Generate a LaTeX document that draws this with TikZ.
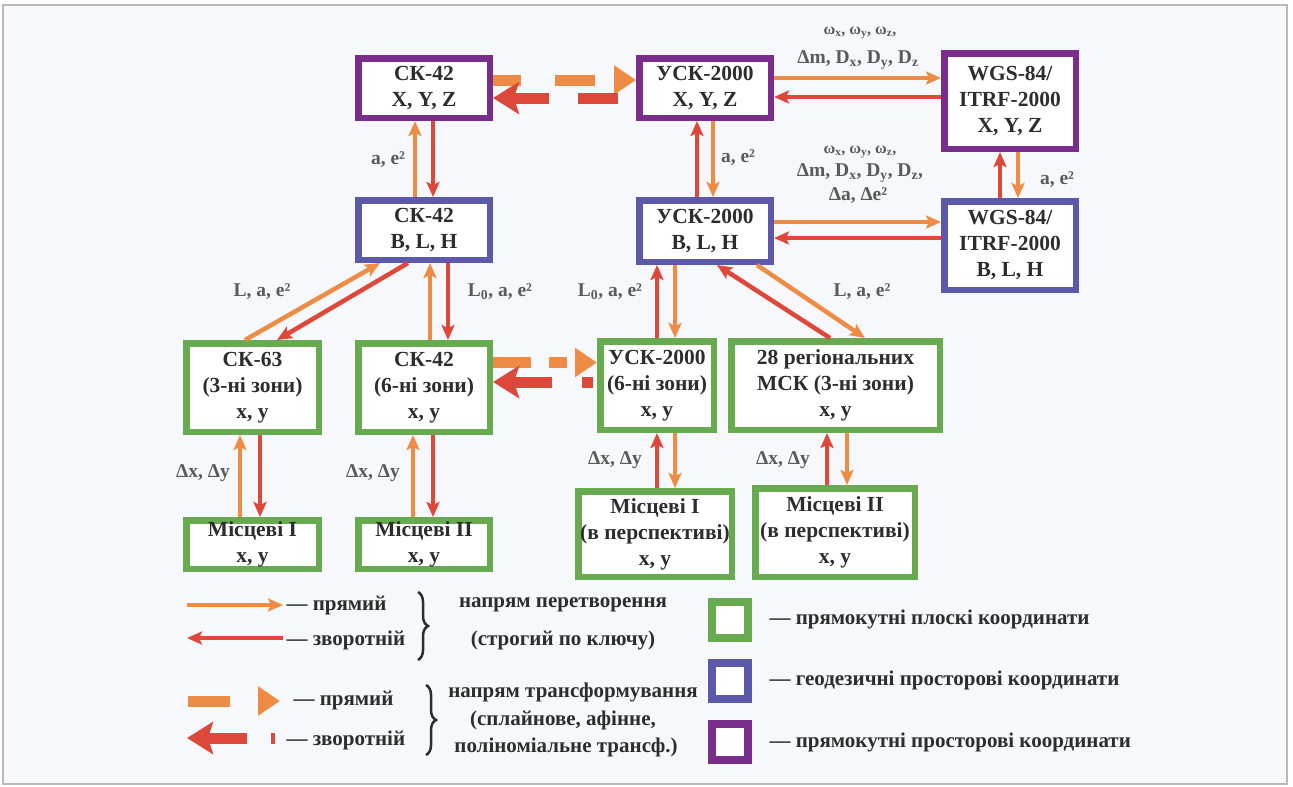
\documentclass[tikz,border=0pt]{standalone}
\usepackage{fontspec}
\setmainfont{Liberation Serif}
\usetikzlibrary{arrows.meta,calc,decorations.pathreplacing}
\definecolor{cpurple}{RGB}{122,46,140}
\definecolor{cblue}{RGB}{92,88,170}
\definecolor{cgreen}{RGB}{104,170,80}
\definecolor{corange}{RGB}{238,140,70}
\definecolor{cred}{RGB}{222,72,58}
\definecolor{ctext}{RGB}{45,45,45}
\definecolor{clabel}{RGB}{90,90,90}
\definecolor{cbg}{RGB}{246,248,251}
\begin{document}
\begin{tikzpicture}[x=1pt,y=-1pt,
  box/.style={draw, line width=6.5pt, fill=white, align=center, inner sep=0pt,
    font=\fontsize{21.5}{26}\selectfont\bfseries, text=ctext},
  pbox/.style={box, draw=cpurple},
  bbox/.style={box, draw=cblue},
  gbox/.style={box, draw=cgreen},
  fwd/.style={draw=corange, line width=4.5pt, -{Stealth[length=15pt,width=13pt,inset=3pt]}},
  rev/.style={draw=cred, line width=4.5pt, -{Stealth[length=15pt,width=13pt,inset=3pt]}},
  tfwd/.style={draw=corange, line width=11pt, -{Triangle[length=22pt,width=28pt]}},
  trev/.style={draw=cred, line width=11pt, -{Stealth[length=26pt,width=32pt,inset=5pt]}},
  lbl/.style={font=\fontsize{19.5}{22}\selectfont\bfseries, text=clabel},
  wlbl/.style={font=\fontsize{16}{18}\selectfont\bfseries, text=clabel},
  leg/.style={font=\fontsize{21}{24}\selectfont\bfseries, text=ctext},
  sq/.style={draw, line width=8pt, fill=white, minimum size=36pt, inner sep=0pt},
  brc/.style={draw=ctext, line width=2.5pt, decorate, decoration={brace, amplitude=10pt}}
]
\useasboundingbox (0,0) rectangle (1293,787);
\fill[white] (0,0) rectangle (1293,787);
\draw[gray!55, line width=1.2pt, fill=cbg] (3,5) rectangle (1287,784);

% nodes
\node[pbox, minimum width=131.5pt, minimum height=59.5pt] (sk42xyz) at (424,88) {СК-42\\X, Y, Z};
\node[pbox, minimum width=131.5pt, minimum height=59.5pt] (uskxyz) at (705,88) {УСК-2000\\X, Y, Z};
\node[pbox, minimum width=131.5pt, minimum height=95.5pt] (wgsxyz) at (1010,101) {WGS-84/\\ITRF-2000\\X, Y, Z};
\node[bbox, minimum width=131.5pt, minimum height=59.5pt] (sk42blh) at (424,230) {СК-42\\B, L, H};
\node[bbox, minimum width=131.5pt, minimum height=61.5pt] (uskblh) at (705,231) {УСК-2000\\B, L, H};
\node[bbox, minimum width=131.5pt, minimum height=88.5pt] (wgsblh) at (1010,245.5) {WGS-84/\\ITRF-2000\\B, L, H};
\node[gbox, minimum width=132.5pt, minimum height=88.5pt] (sk63) at (252.5,387.5) {СК-63\\(3-ні зони)\\x, y};
\node[gbox, minimum width=131.5pt, minimum height=88.5pt] (sk42z) at (424,387.5) {СК-42\\(6-ні зони)\\x, y};
\node[gbox, minimum width=113.5pt, minimum height=88.5pt] (usk6) at (657,385.5) {УСК-2000\\(6-ні зони)\\x, y};
\node[gbox, minimum width=208.5pt, minimum height=88.5pt] (msk) at (835.5,385.5) {28 регіональних\\МСК (3-ні зони)\\x, y};
\node[gbox, minimum width=132.5pt, minimum height=48.5pt] (mis1) at (252.5,544.5) {Місцеві I\\x, y};
\node[gbox, minimum width=131.5pt, minimum height=48.5pt] (mis2) at (424,544.5) {Місцеві II\\x, y};
\node[gbox, minimum width=153.5pt, minimum height=85.5pt] (mis1p) at (655,534) {Місцеві I\\(в перспективі)\\x, y};
\node[gbox, minimum width=159.5pt, minimum height=88.5pt] (mis2p) at (835,532.5) {Місцеві II\\(в перспективі)\\x, y};

% thick dashed transformation arrows
\draw[tfwd, dash pattern=on 28pt off 34pt on 40pt off 30pt] ($(sk42xyz.east)+(0,-8)$) -- ($(uskxyz.west)+(0,-8)$);
\draw[trev, dash pattern=on 0pt off 18pt on 40pt off 29pt on 90pt] ($(uskxyz.west)+(0,10)$) -- ($(sk42xyz.east)+(0,10)$);
\draw[tfwd, dash pattern=on 38pt off 18pt on 18pt off 20pt] ($(sk42z.east)+(0,-25)$) -- ($(usk6.west)+(0,-23)$);
\draw[trev, dash pattern=on 0pt off 4pt on 11pt off 30pt on 90pt] ($(usk6.west)+(0,-3.5)$) -- ($(sk42z.east)+(0,-5.5)$);

% vertical / horizontal conversion arrows
\draw[fwd] ($(sk42blh.north)+(-9,0)$) -- ($(sk42xyz.south)+(-9,0)$);
\draw[rev] ($(sk42xyz.south)+(9,0)$) -- ($(sk42blh.north)+(9,0)$);
\draw[rev] ($(uskblh.north)+(-8,0)$) -- ($(uskxyz.south)+(-8,0)$);
\draw[fwd] ($(uskxyz.south)+(8,0)$) -- ($(uskblh.north)+(8,0)$);
\draw[rev] ($(wgsblh.north)+(-10,0)$) -- ($(wgsxyz.south)+(-10,0)$);
\draw[fwd] ($(wgsxyz.south)+(8,0)$) -- ($(wgsblh.north)+(8,0)$);
\draw[fwd] ($(uskxyz.east)+(0,-10)$) -- ($(wgsxyz.west)+(0,-23)$);
\draw[rev] ($(wgsxyz.west)+(0,-4)$) -- ($(uskxyz.east)+(0,9)$);
\draw[fwd] ($(uskblh.east)+(0,-9)$) -- ($(wgsblh.west)+(0,-23.5)$);
\draw[rev] ($(wgsblh.west)+(0,-7.5)$) -- ($(uskblh.east)+(0,7)$);
\draw[fwd] ($(sk63.north)+(-7.5,0)$) -- ($(sk42blh.south)+(-44,0)$);
\draw[rev] ($(sk42blh.south)+(-16,0)$) -- ($(sk63.north)+(24.5,0)$);
\draw[fwd] ($(sk42z.north)+(6,0)$) -- ($(sk42blh.south)+(6,0)$);
\draw[rev] ($(sk42blh.south)+(24,0)$) -- ($(sk42z.north)+(24,0)$);
\draw[rev] (usk6.north) -- ($(uskblh.south)+(-48,0)$);
\draw[fwd] ($(uskblh.south)+(-30,0)$) -- ($(usk6.north)+(18,0)$);
\draw[rev] ($(msk.north)+(-5.5,0)$) -- ($(uskblh.south)+(12,0)$);
\draw[fwd] ($(uskblh.south)+(52,0)$) -- ($(msk.north)+(29.5,0)$);
\draw[fwd] ($(mis1.north)+(-12.5,0)$) -- ($(sk63.south)+(-12.5,0)$);
\draw[rev] ($(sk63.south)+(7.5,0)$) -- ($(mis1.north)+(7.5,0)$);
\draw[fwd] ($(mis2.north)+(-11,0)$) -- ($(sk42z.south)+(-11,0)$);
\draw[rev] ($(sk42z.south)+(9,0)$) -- ($(mis2.north)+(9,0)$);
\draw[rev] ($(mis1p.north)+(2,0)$) -- (usk6.south);
\draw[fwd] ($(usk6.south)+(18,0)$) -- ($(mis1p.north)+(20,0)$);
\draw[rev] ($(mis2p.north)+(-8,0)$) -- ($(msk.south)+(-8.5,0)$);
\draw[fwd] ($(msk.south)+(11.5,0)$) -- ($(mis2p.north)+(12,0)$);

% labels
\node[lbl] (l1) at (388,160) {a, e²};
\node[lbl] (l2) at (738,158) {a, e²};
\node[lbl] (l3) at (1057,180) {a, e²};
\node[wlbl] (w1) at (860,33) {ω\textsubscript{x}, ω\textsubscript{y}, ω\textsubscript{z},};
\node[lbl] (d1) at (858,60) {Δm, D\textsubscript{x}, D\textsubscript{y}, D\textsubscript{z}};
\node[wlbl] (w2) at (860,152) {ω\textsubscript{x}, ω\textsubscript{y}, ω\textsubscript{z},};
\node[lbl] (d2) at (860,173) {Δm, D\textsubscript{x}, D\textsubscript{y}, D\textsubscript{z},};
\node[lbl] (a2) at (858,196) {Δa, Δe²};
\node[lbl] (l4) at (262,292) {L, a, e²};
\node[lbl] (l5) at (500,292) {L\textsubscript{0}, a, e²};
\node[lbl] (l6) at (610,292) {L\textsubscript{0}, a, e²};
\node[lbl] (l7) at (862,292) {L, a, e²};
\node[lbl] (x1) at (203,473) {Δx, Δy};
\node[lbl] (x2) at (373,473) {Δx, Δy};
\node[lbl] (x3) at (615,460) {Δx, Δy};
\node[lbl] (x4) at (783,460) {Δx, Δy};

% legend: arrows
\coordinate (la1) at (187,605); \coordinate (lb1) at (283,605);
\coordinate (la2) at (283,638); \coordinate (lb2) at (187,638);
\draw[fwd] (la1) -- (lb1);
\draw[rev] (la2) -- (lb2);
\node[leg, anchor=west] (t1) at (283,605) {— прямий};
\node[leg, anchor=west] (t2) at (283,640) {— зворотній};
\draw[brc] (418,592) -- (418,660);
\node[leg] (t3) at (563,605) {напрям перетворення};
\node[leg] (t4) at (563,640) {(строгий по ключу)};

\coordinate (la3) at (188,701); \coordinate (lb3) at (280,701);
\coordinate (la4) at (276,738); \coordinate (lb4) at (187,738);
\draw[tfwd, dash pattern=on 42pt off 40pt] (la3) -- (lb3);
\draw[trev, dash pattern=on 0pt off 1pt on 4pt off 24pt on 90pt] (la4) -- (lb4);
\node[leg, anchor=west] (t5) at (290,700) {— прямий};
\node[leg, anchor=west] (t6) at (283,740) {— зворотній};
\draw[brc] (426,685) -- (426,755);
\node[leg] (t7) at (573,692) {напрям трансформування};
\node[leg] (t8) at (563,720) {(сплайнове, афінне,};
\node[leg] (t9) at (566,747) {поліноміальне трансф.)};

% legend: squares
\node[sq, draw=cgreen] (s1) at (730,620) {};
\node[sq, draw=cblue] (s2) at (730,681) {};
\node[sq, draw=cpurple] (s3) at (730,742) {};
\node[leg, anchor=west] (t10) at (766,619) {— прямокутні плоскі координати};
\node[leg, anchor=west] (t11) at (766,680) {— геодезичні просторові координати};
\node[leg, anchor=west] (t12) at (766,742) {— прямокутні просторові координати};
\end{tikzpicture}
\end{document}
